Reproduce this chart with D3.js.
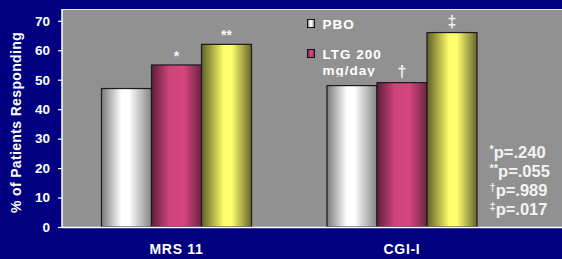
<!DOCTYPE html>
<html>
<head>
<meta charset="utf-8">
<script src="https://cdn.jsdelivr.net/npm/d3@7"></script>
<style>
  body { margin: 0; background: #000080; }
  svg { display: block; }
</style>
</head>
<body>
<div id="chart"></div>
<script>
// data
const categories = ["MRS 11", "CGI-I"];
const series = ["PBO", "LTG 200 mg/day", "LTG 400"];
const pbo = [47, 48];
const ltg200 = [55, 49];
const ltg400 = [62, 66];
const marks = [["", "*", "**"], ["", "†", "‡"]];
const yTicks = [0, 10, 20, 30, 40, 50, 60, 70];
const pNotes = [["*", "p=.240"], ["**", "p=.055"], ["†", "p=.989"], ["‡", "p=.017"]];

const W = 562, H = 259;
const plot = {left: 62, top: 9, right: 562, bottom: 227};
const FONT = "Arial, 'Liberation Sans', sans-serif";

const svg = d3.select("#chart").append("svg")
  .attr("width", W).attr("height", H)
  .style("font-family", FONT);

svg.append("rect").attr("width", W).attr("height", H).attr("fill", "#000080");
svg.append("rect")
  .attr("x", plot.left).attr("y", plot.top)
  .attr("width", plot.right - plot.left).attr("height", plot.bottom - plot.top)
  .attr("fill", "#919191");
// top white edge of the plot frame
svg.append("line")
  .attr("x1", plot.left).attr("x2", plot.right)
  .attr("y1", plot.top + 0.5).attr("y2", plot.top + 0.5)
  .attr("stroke", "#e8e8e8").attr("stroke-width", 1);

// gradients, one per series
const defs = svg.append("defs");
const grads = [
  {id: "g0", stops: [[0, "#7a7a7a"], [0.4, "#ffffff"], [0.55, "#ffffff"], [1, "#858585"]]},
  {id: "g1", stops: [[0, "#5e1e38"], [0.35, "#cf437a"], [0.65, "#d4467d"], [1, "#6e2444"]]},
  {id: "g2", stops: [[0, "#5f5f25"], [0.45, "#ffff6e"], [0.6, "#ffff70"], [1, "#66662a"]]}
];
grads.forEach(g => {
  const lg = defs.append("linearGradient").attr("id", g.id)
    .attr("x1", "0%").attr("x2", "100%").attr("y1", "0%").attr("y2", "0%");
  g.stops.forEach(s => lg.append("stop").attr("offset", s[0]).attr("stop-color", s[1]));
});

const y = d3.scaleLinear().domain([0, 74]).range([plot.bottom, plot.top]);
const x = d3.scaleBand().domain(categories).range([63.75, 514.75]).padding(0);
const xs = d3.scaleBand().domain(series).range([0, 150]);
const groupOffset = (x.bandwidth() - 150) / 2;

const rows = categories.map((c, i) => ({
  cat: c,
  vals: [pbo[i], ltg200[i], ltg400[i]].map((v, j) => ({s: series[j], v: v, j: j, m: marks[i][j]}))
}));

const groups = svg.selectAll("g.grp").data(rows).enter().append("g")
  .attr("class", "grp")
  .attr("transform", d => `translate(${x(d.cat) + groupOffset},0)`);

groups.selectAll("rect").data(d => d.vals).enter().append("rect")
  .attr("x", d => xs(d.s))
  .attr("y", d => y(d.v))
  .attr("width", xs.bandwidth())
  .attr("height", d => y(0) - y(d.v))
  .attr("fill", d => `url(#g${d.j})`)
  .attr("stroke", "#1a1a1a").attr("stroke-width", 1.2);

groups.selectAll("text.mk").data(d => d.vals.filter(e => e.m)).enter().append("text")
  .attr("class", "mk")
  .attr("x", d => xs(d.s) + xs.bandwidth() / 2)
  .attr("y", d => y(d.v) - (d.m.startsWith("*") ? 4 : 6))
  .attr("text-anchor", "middle")
  .attr("fill", "#f4f4f4")
  .attr("font-size", d => d.m.startsWith("*") ? 14 : 16)
  .attr("font-weight", "bold")
  .text(d => d.m);

// y axis
const yAxis = svg.append("g").attr("transform", `translate(${plot.left},0)`)
  .call(d3.axisLeft(y).tickValues(yTicks).tickSize(4).tickPadding(8));
yAxis.select(".domain").attr("stroke", "#ffffff").attr("stroke-width", 1.5)
  .attr("d", `M0,${plot.top}V${plot.bottom}`);
yAxis.selectAll(".tick line").attr("stroke", "#ffffff").attr("stroke-width", 1.2);
yAxis.selectAll(".tick text")
  .attr("fill", "#ffffff").attr("font-size", 13.5).attr("font-weight", "bold")
  .style("font-family", FONT);

// x baseline and labels
svg.append("line")
  .attr("x1", plot.left).attr("x2", plot.right)
  .attr("y1", plot.bottom + 0.5).attr("y2", plot.bottom + 0.5)
  .attr("stroke", "#ffffff").attr("stroke-width", 1.5);
svg.selectAll("text.xl").data(categories).enter().append("text")
  .attr("class", "xl")
  .attr("x", d => x(d) + x.bandwidth() / 2)
  .attr("y", 253.5)
  .attr("text-anchor", "middle")
  .attr("fill", "#ffffff").attr("font-size", 14).attr("font-weight", "bold")
  .attr("letter-spacing", 0.7)
  .text(d => d);

svg.append("text")
  .attr("transform", `translate(20.5,122.5) rotate(-90)`)
  .attr("text-anchor", "middle")
  .attr("fill", "#ffffff").attr("font-size", 14).attr("font-weight", "bold")
  .attr("letter-spacing", 0.35)
  .text("% of Patients Responding");

// legend (only the first two entries show; its box clips the last line)
defs.append("clipPath").attr("id", "legclip")
  .append("rect").attr("x", 300).attr("y", 10).attr("width", 200).attr("height", 66.5);
const leg = svg.append("g").attr("clip-path", "url(#legclip)");
const legItems = [
  {j: 0, y: 19, lines: ["PBO"]},
  {j: 1, y: 49, lines: ["LTG 200", "mg/day"]}
];
legItems.forEach(it => {
  leg.append("rect").attr("x", 307.5).attr("y", it.y + 0.5).attr("width", 7).attr("height", 8)
    .attr("fill", `url(#g${it.j})`).attr("stroke", "#111").attr("stroke-width", 1);
  it.lines.forEach((t, k) => {
    leg.append("text")
      .attr("x", 322.5).attr("y", it.y + 9.5 + k * 16.5)
      .attr("fill", "#ffffff").attr("font-size", 13.5).attr("font-weight", "bold")
      .attr("letter-spacing", 1)
      .text(t);
  });
});

// p-value notes
const notes = svg.append("g")
  .attr("font-weight", "bold").attr("fill", "#f4f4f4");
pNotes.forEach((p, i) => {
  const t = notes.append("text").attr("x", 489.5).attr("y", 157.5 + i * 19).attr("font-size", 16.5);
  t.append("tspan").attr("font-size", 11).attr("dy", -5).text(p[0]);
  t.append("tspan").attr("dy", 5).text(p[1]);
});
</script>
</body>
</html>
